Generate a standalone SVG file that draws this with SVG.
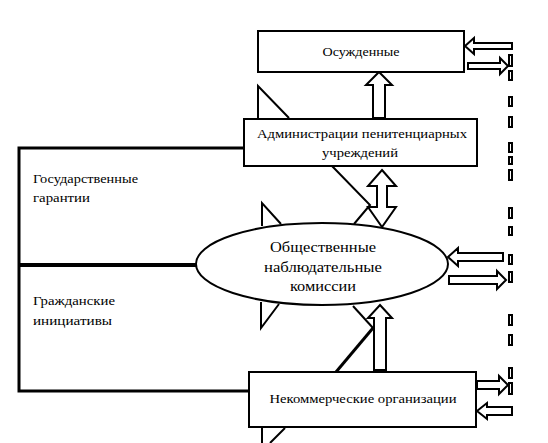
<svg xmlns="http://www.w3.org/2000/svg" width="548" height="443" viewBox="0 0 548 443">
<style>
.box{fill:#fff;stroke:#000;stroke-width:2}
.ln{fill:none;stroke:#000;stroke-width:2}
.thk{fill:none;stroke:#000;stroke-width:3}
.arr{fill:#fff;stroke:#000;stroke-width:2;stroke-linejoin:miter}
.dash{fill:#fff;stroke:#000;stroke-width:2}
.t{font-family:"Liberation Serif","Times New Roman",serif;fill:#000;text-anchor:middle}
.tl{font-family:"Liberation Serif","Times New Roman",serif;fill:#000}
</style>
<rect width="548" height="443" fill="#fff"/>
<g id="connectors">
  <polyline class="thk" points="243,148 19,148 19,391 248,391"/>
  <line x1="19" y1="265" x2="197" y2="265" stroke="#000" stroke-width="4"/>
  <polyline class="ln" points="258,118 258,86 289,118"/>
  <polyline class="ln" points="332,166 370,205 354,224"/>
  <polyline class="ln" points="262,226 262,203 281,224"/>
  <polyline class="ln" points="261,302 261,328 279,304"/>
  <polyline class="ln" points="353,306 373,328"/>
  <line x1="373" y1="328" x2="336" y2="372" stroke="#000" stroke-width="3"/>
  <polyline class="ln" points="262,428 262,443"/>
  <line x1="285" y1="428" x2="270" y2="443" stroke="#000" stroke-width="2"/>
  <polygon class="arr" points="379,72 392,85 385,85 385,118 373,118 373,85 366,85"/>
  <polygon class="arr" points="382,170 396,186 387,186 387,207 396,207 382,227 368,207 377,207 377,186 368,186"/>
  <polygon class="arr" points="380,305 392,318 386,318 386,370 374,370 374,318 368,318"/>
  <polygon class="arr" points="465,46 474,38 474,43 512,43 512,49 474,49 474,54"/>
  <polygon class="arr" points="468,63 500,63 500,58 508,66 500,74 500,69 468,69"/>
  <polygon class="arr" points="448,257 458,248 458,253 503,253 503,261 458,261 458,266"/>
  <polygon class="arr" points="449,276 497,276 497,271 506,280 497,289 497,284 449,284"/>
  <polygon class="arr" points="477,381 499,381 499,376 508,385 499,394 499,389 477,389"/>
  <polygon class="arr" points="477,411 487,403 487,407 512,407 512,415 487,415 487,419"/>
  <g>
    <rect class="dash" x="509" y="55" width="3" height="11"/>
    <rect class="dash" x="509" y="71" width="3" height="9"/>
    <rect class="dash" x="509" y="97" width="3" height="9"/>
    <rect class="dash" x="509" y="117" width="3" height="10"/>
    <rect class="dash" x="509" y="143" width="3" height="9"/>
    <rect class="dash" x="509" y="157" width="3" height="7"/>
    <rect class="dash" x="509" y="170" width="3" height="10"/>
    <rect class="dash" x="509" y="208" width="3" height="10"/>
    <rect class="dash" x="509" y="227" width="3" height="8"/>
    <rect class="dash" x="509" y="255" width="3" height="9"/>
    <rect class="dash" x="509" y="272" width="3" height="10"/>
    <rect class="dash" x="509" y="315" width="3" height="10"/>
    <rect class="dash" x="509" y="335" width="3" height="10"/>
    <rect class="dash" x="509" y="368" width="3" height="10"/>
    <rect class="dash" x="509" y="383" width="3" height="11"/>
  </g>
</g>
<g id="node-convicts">
  <rect class="box" x="258" y="31" width="206" height="41"/>
  <text class="t" x="361" y="56" font-size="13" textLength="77" lengthAdjust="spacingAndGlyphs">Осужденные</text>
</g>
<g id="node-admin">
  <rect class="box" x="244" y="119" width="233" height="47"/>
  <text class="t" x="362" y="138" font-size="13" textLength="210" lengthAdjust="spacingAndGlyphs">Администрации пенитенциарных</text>
  <text class="t" x="360" y="157" font-size="13" textLength="76" lengthAdjust="spacingAndGlyphs">учреждений</text>
</g>
<g id="node-commissions">
  <ellipse class="box" cx="322" cy="264" rx="126" ry="41"/>
  <text class="t" x="323" y="252" font-size="14" textLength="106" lengthAdjust="spacingAndGlyphs">Общественные</text>
  <text class="t" x="323" y="272" font-size="14" textLength="118" lengthAdjust="spacingAndGlyphs">наблюдательные</text>
  <text class="t" x="323" y="291" font-size="14" textLength="66" lengthAdjust="spacingAndGlyphs">комиссии</text>
</g>
<g id="node-ngo">
  <rect class="box" x="249" y="372" width="227" height="55"/>
  <text class="t" x="363" y="403" font-size="13" textLength="187" lengthAdjust="spacingAndGlyphs">Некоммерческие организации</text>
</g>
<g id="label-state">
  <text class="tl" x="33" y="183" font-size="12" textLength="105" lengthAdjust="spacingAndGlyphs">Государственные</text>
  <text class="tl" x="33" y="202" font-size="12" textLength="57" lengthAdjust="spacingAndGlyphs">гарантии</text>
</g>
<g id="label-civil">
  <text class="tl" x="33" y="305" font-size="12" textLength="82" lengthAdjust="spacingAndGlyphs">Гражданские</text>
  <text class="tl" x="33" y="325" font-size="12" textLength="79" lengthAdjust="spacingAndGlyphs">инициативы</text>
</g>
</svg>
